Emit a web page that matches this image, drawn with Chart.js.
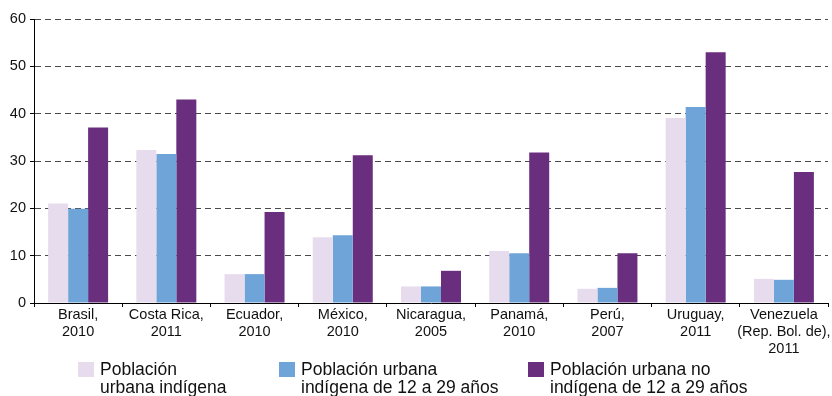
<!DOCTYPE html>
<html lang="es">
<head>
<meta charset="utf-8">
<title>Población urbana indígena y no indígena</title>
<script src="https://cdn.jsdelivr.net/npm/chart.js@4/dist/chart.umd.min.js"></script>
<style>
  html, body { margin: 0; padding: 0; background: #fff; }
  #wrap { position: relative; width: 832px; height: 396px; overflow: hidden; }
  #chart { position: absolute; left: 0; top: 0; }
  .legend-item { position: absolute; top: 360px; font-family: "Liberation Sans", Arial, sans-serif;
    font-size: 17.5px; line-height: 18px; color: #111; }
  .legend-item .swatch { position: absolute; left: 0; top: 2px; width: 16px; height: 15px; }
  .legend-item .text { position: absolute; left: 22px; top: 0; white-space: nowrap; }
</style>
</head>
<body>
<div id="wrap">
  <canvas id="chart" width="832" height="396"></canvas>
  <div id="legend"></div>
</div>
<script>
// categories (country, year) — split into lines for the axis
const countries = [
  ['Brasil,', '2010'],
  ['Costa Rica,', '2011'],
  ['Ecuador,', '2010'],
  ['México,', '2010'],
  ['Nicaragua,', '2005'],
  ['Panamá,', '2010'],
  ['Perú,', '2007'],
  ['Uruguay,', '2011'],
  ['Venezuela', '(Rep. Bol. de),', '2011'],
];

// percentages per series
const urbanaIndigena = [21.0, 32.3, 6.1, 13.9, 3.5, 11.0, 3.0, 39.1, 5.1];
const urbanaIndigenaJoven = [19.9, 31.5, 6.1, 14.3, 3.5, 10.5, 3.2, 41.4, 4.9];
const urbanaNoIndigenaJoven = [37.1, 43.0, 19.2, 31.2, 6.8, 31.8, 10.5, 53.0, 27.7];

const yTicks = [0, 10, 20, 30, 40, 50, 60];

const seriesLabels = [
  ['Población', 'urbana indígena'],
  ['Población urbana', 'indígena de 12 a 29 años'],
  ['Población urbana no', 'indígena de 12 a 29 años'],
];
const seriesColors = ['#e7dcee', '#6fa4d8', '#6a2e7e'];
const legendLeft = [78, 279, 528];

const font = { family: '"Liberation Sans", Arial, sans-serif', size: 14.5 };

const datasets = [urbanaIndigena, urbanaIndigenaJoven, urbanaNoIndigenaJoven].map((data, i) => ({
  label: seriesLabels[i].join(' '),
  data: data,
  backgroundColor: seriesColors[i],
  borderWidth: 0,
  categoryPercentage: 0.68,
  barPercentage: 1.0,
}));

new Chart(document.getElementById('chart'), {
  type: 'bar',
  data: { labels: countries, datasets: datasets },
  options: {
    responsive: false,
    animation: false,
    layout: { padding: { top: 19, right: 4, left: 0, bottom: 0 } },
    plugins: {
      legend: { display: false },
      tooltip: { enabled: false },
    },
    scales: {
      x: {
        afterFit: (scale) => { scale.height = 93; },
        grid: {
          offset: true,
          drawOnChartArea: false,
          drawTicks: true,
          tickLength: 4,
          tickColor: '#000',
        },
        border: { display: true, color: '#000', width: 1 },
        ticks: {
          color: '#111',
          font: { ...font, lineHeight: 1.17 },
          padding: 0,
          maxRotation: 0,
          autoSkip: false,
        },
      },
      y: {
        min: 0,
        max: 60,
        afterFit: (scale) => { scale.width = 34; },
        afterBuildTicks: (scale) => { scale.ticks = yTicks.map((v) => ({ value: v })); },
        grid: {
          color: '#4a4a4a',
          lineWidth: 1,
          drawTicks: true,
          tickLength: 4,
          tickColor: '#000',
        },
        border: { display: true, color: '#000', width: 1, dash: [6, 4] },
        ticks: {
          color: '#111',
          font: font,
          padding: 4,
        },
      },
    },
  },
});

// legend below the chart, with wrapped labels
const legend = document.getElementById('legend');
seriesLabels.forEach((lines, i) => {
  const item = document.createElement('div');
  item.className = 'legend-item';
  item.style.left = legendLeft[i] + 'px';
  const sw = document.createElement('div');
  sw.className = 'swatch';
  sw.style.background = seriesColors[i];
  const txt = document.createElement('div');
  txt.className = 'text';
  txt.innerHTML = lines.join('<br>');
  item.appendChild(sw);
  item.appendChild(txt);
  legend.appendChild(item);
});
</script>
</body>
</html>
